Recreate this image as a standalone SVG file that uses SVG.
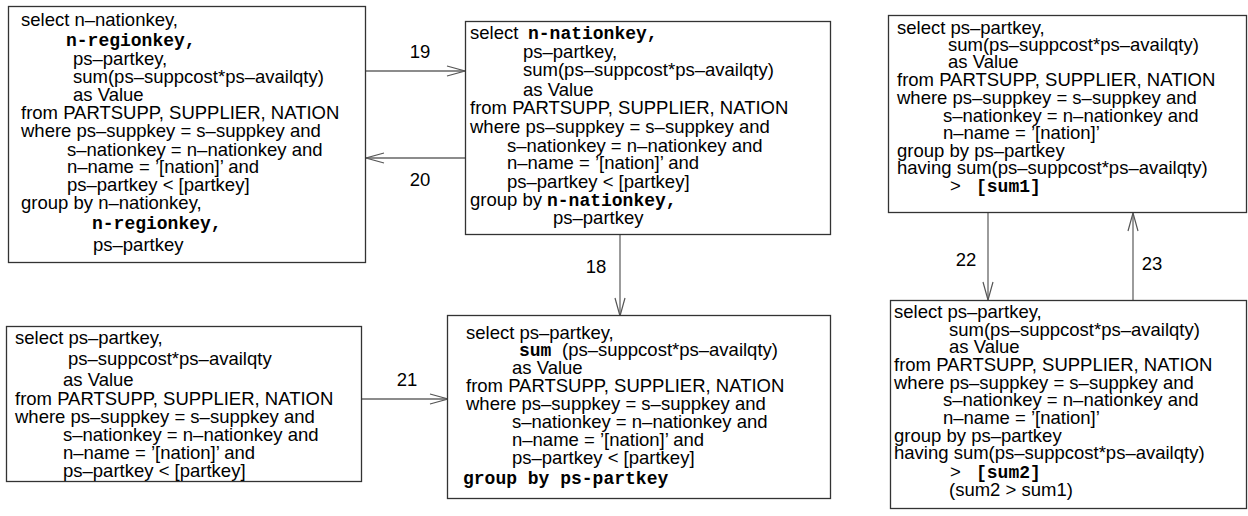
<svg xmlns="http://www.w3.org/2000/svg" width="1248" height="516" viewBox="0 0 1248 516">
<style>
.t{font-family:"Liberation Sans",Arial,sans-serif;font-size:18.5px;fill:#000}
.m{font-family:"Liberation Mono","Courier New",monospace;font-size:18px;font-weight:bold;fill:#000}
.box{fill:#fff;stroke:#333;stroke-width:1.3}
.c{stroke:#666;stroke-width:1.3;fill:none}
.lbl{font-family:"Liberation Sans",Arial,sans-serif;font-size:18.5px;fill:#000;text-anchor:middle}
</style>
<defs>
<marker id="ah" markerUnits="userSpaceOnUse" markerWidth="22" markerHeight="14" refX="19" refY="6" orient="auto">
<path d="M1,1 L19,6 L1,11" fill="none" stroke="#555" stroke-width="1.2"/>
</marker>
</defs>
<rect width="1248" height="516" fill="#fff"/>

<g id="connectors">
<line class="c" x1="366" y1="71" x2="465" y2="71" marker-end="url(#ah)"/>
<text class="lbl" x="420" y="58">19</text>
<line class="c" x1="465" y1="158" x2="366" y2="158" marker-end="url(#ah)"/>
<text class="lbl" x="420" y="186">20</text>
<line class="c" x1="620" y1="235" x2="620" y2="316" marker-end="url(#ah)"/>
<text class="lbl" x="596" y="273">18</text>
<line class="c" x1="362" y1="399" x2="448" y2="399" marker-end="url(#ah)"/>
<text class="lbl" x="407" y="386">21</text>
<line class="c" x1="988" y1="213" x2="988" y2="300" marker-end="url(#ah)"/>
<text class="lbl" x="966" y="266">22</text>
<line class="c" x1="1133" y1="300" x2="1133" y2="213" marker-end="url(#ah)"/>
<text class="lbl" x="1152" y="270">23</text>
</g>

<g id="node-q1">
<rect class="box" x="8.5" y="6.5" width="357" height="256"/>
<text class="t" x="21" y="26">select n–nationkey,</text>
<text class="m" x="66" y="46">n-regionkey,</text>
<text class="t" x="73" y="65">ps–partkey,</text>
<text class="t" x="73" y="83">sum(ps–suppcost*ps–availqty)</text>
<text class="t" x="73" y="101">as Value</text>
<text class="t" x="21" y="119">from PARTSUPP, SUPPLIER, NATION</text>
<text class="t" x="21" y="137">where ps–suppkey = s–suppkey and</text>
<text class="t" x="67" y="156">s–nationkey = n–nationkey and</text>
<text class="t" x="67" y="173">n–name = ’[nation]’ and</text>
<text class="t" x="67" y="191">ps–partkey &lt; [partkey]</text>
<text class="t" x="21" y="209">group by n–nationkey,</text>
<text class="m" x="92" y="229">n-regionkey,</text>
<text class="t" x="93" y="251">ps–partkey</text>
</g>

<g id="node-q2">
<rect class="box" x="465.5" y="21.5" width="365" height="213"/>
<text class="t" x="470" y="39">select</text>
<text class="m" x="528" y="39">n-nationkey,</text>
<text class="t" x="523" y="58">ps–partkey,</text>
<text class="t" x="523" y="76">sum(ps–suppcost*ps–availqty)</text>
<text class="t" x="523" y="96">as Value</text>
<text class="t" x="470" y="114">from PARTSUPP, SUPPLIER, NATION</text>
<text class="t" x="470" y="133">where ps–suppkey = s–suppkey and</text>
<text class="t" x="507" y="152">s–nationkey = n–nationkey and</text>
<text class="t" x="507" y="169">n–name = ’[nation]’ and</text>
<text class="t" x="507" y="188">ps–partkey &lt; [partkey]</text>
<text class="t" x="470" y="206">group by</text>
<text class="m" x="547" y="206">n-nationkey,</text>
<text class="t" x="553" y="224">ps–partkey</text>
</g>

<g id="node-q3">
<rect class="box" x="447.5" y="315.5" width="383" height="183"/>
<text class="t" x="466" y="339">select ps–partkey,</text>
<text class="m" x="519" y="356">sum</text>
<text class="t" x="562" y="356">(ps–suppcost*ps–availqty)</text>
<text class="t" x="512" y="374">as Value</text>
<text class="t" x="466" y="392">from PARTSUPP, SUPPLIER, NATION</text>
<text class="t" x="466" y="410">where ps–suppkey = s–suppkey and</text>
<text class="t" x="512" y="428">s–nationkey = n–nationkey and</text>
<text class="t" x="512" y="446">n–name = ’[nation]’ and</text>
<text class="t" x="512" y="464">ps–partkey &lt; [partkey]</text>
<text class="m" x="463" y="484">group by ps-partkey</text>
</g>

<g id="node-q4">
<rect class="box" x="6.5" y="326.5" width="355" height="155"/>
<text class="t" x="15" y="344">select ps–partkey,</text>
<text class="t" x="68" y="365">ps–suppcost*ps–availqty</text>
<text class="t" x="63" y="386">as Value</text>
<text class="t" x="15" y="405">from PARTSUPP, SUPPLIER, NATION</text>
<text class="t" x="15" y="423">where ps–suppkey = s–suppkey and</text>
<text class="t" x="63" y="441">s–nationkey = n–nationkey and</text>
<text class="t" x="63" y="459">n–name = ’[nation]’ and</text>
<text class="t" x="63" y="477">ps–partkey &lt; [partkey]</text>
</g>

<g id="node-q5">
<rect class="box" x="888.5" y="15.5" width="358" height="197"/>
<text class="t" x="897" y="34">select ps–partkey,</text>
<text class="t" x="948" y="51">sum(ps–suppcost*ps–availqty)</text>
<text class="t" x="948" y="68">as Value</text>
<text class="t" x="897" y="86">from PARTSUPP, SUPPLIER, NATION</text>
<text class="t" x="897" y="104">where ps–suppkey = s–suppkey and</text>
<text class="t" x="943" y="122">s–nationkey = n–nationkey and</text>
<text class="t" x="943" y="139">n–name = ’[nation]’</text>
<text class="t" x="897" y="157">group by ps–partkey</text>
<text class="t" x="897" y="174">having sum(ps–suppcost*ps–availqty)</text>
<text class="t" x="950" y="192">&gt;</text>
<text class="m" x="976" y="192">[sum1]</text>
</g>

<g id="node-q6">
<rect class="box" x="890.5" y="300.5" width="356" height="208"/>
<text class="t" x="894" y="318">select ps–partkey,</text>
<text class="t" x="949" y="336">sum(ps–suppcost*ps–availqty)</text>
<text class="t" x="949" y="353">as Value</text>
<text class="t" x="894" y="371">from PARTSUPP, SUPPLIER, NATION</text>
<text class="t" x="894" y="389">where ps–suppkey = s–suppkey and</text>
<text class="t" x="943" y="406">s–nationkey = n–nationkey and</text>
<text class="t" x="943" y="424">n–name = ’[nation]’</text>
<text class="t" x="894" y="442">group by ps–partkey</text>
<text class="t" x="894" y="459">having sum(ps–suppcost*ps–availqty)</text>
<text class="t" x="950" y="478">&gt;</text>
<text class="m" x="976" y="478">[sum2]</text>
<text class="t" x="949" y="496">(sum2 &gt; sum1)</text>
</g>
</svg>
